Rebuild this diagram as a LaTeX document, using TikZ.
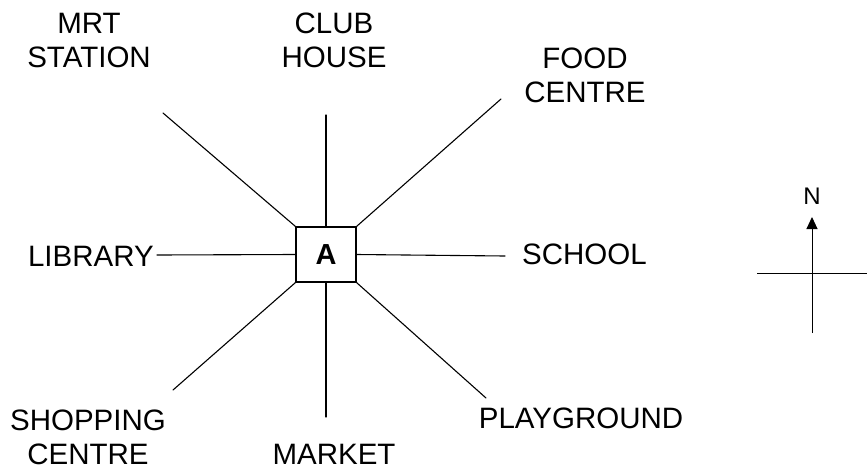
\documentclass[tikz,border=0pt]{standalone}
\usepackage{fontspec}
\setmainfont{Liberation Sans}
\usetikzlibrary{arrows.meta}

\begin{document}
\begin{tikzpicture}[x=1pt,y=-1pt]
\tikzset{
  placelabel/.style={inner sep=0pt,align=center,font=\fontsize{29.5}{34}\selectfont},
  centrebox/.style={draw=black,line width=1.2pt,minimum width=60pt,minimum height=55pt,inner sep=0pt,font=\fontsize{29}{34}\selectfont\bfseries},
  road/.style={draw=black,line width=1.1pt,line cap=round},
  compassline/.style={draw=black,line width=1pt}
}
\useasboundingbox (0,0) rectangle (867,471);
% centre
\node[centrebox] (n_A) at (326,254.5) {A};
% places
\node[placelabel] (n_mrt) at (89,40.5) {MRT\\STATION};
\node[placelabel] (n_club) at (334,40.5) {CLUB\\HOUSE};
\node[placelabel] (n_food) at (585,75) {FOOD\\CENTRE};
\node[placelabel,anchor=east] (n_library) at (154,256) {LIBRARY};
\node[placelabel,anchor=west] (n_school) at (522,254) {SCHOOL};
\node[placelabel] (n_shopping) at (88,437.5) {SHOPPING\\CENTRE};
\node[placelabel] (n_market) at (334,454) {MARKET};
\node[placelabel] (n_play) at (581,418.5) {PLAYGROUND};
% free ends of the roads
\coordinate (e_nw) at (163,113);
\coordinate (e_n) at (326,115);
\coordinate (e_ne) at (501,99);
\coordinate (e_w) at (157,255);
\coordinate (e_e) at (505,256);
\coordinate (e_sw) at (173,390);
\coordinate (e_s) at (326,417);
\coordinate (e_se) at (486,398);
\draw[road] (n_A.north west) -- (e_nw);
\draw[road] (n_A.north) -- (e_n);
\draw[road] (n_A.north east) -- (e_ne);
\draw[road] (n_A.west) -- (e_w);
\draw[road] (n_A.east) -- (e_e);
\draw[road] (n_A.south west) -- (e_sw);
\draw[road] (n_A.south) -- (e_s);
\draw[road] (n_A.south east) -- (e_se);
% compass
\node[placelabel,font=\fontsize{24}{28}\selectfont] (n_north) at (812,196) {N};
\coordinate (c_tip) at (812,217);
\coordinate (c_foot) at (812,333);
\coordinate (c_west) at (757,273);
\coordinate (c_east) at (867,273);
\draw[compassline,-{Triangle[length=12pt,width=11pt]}] (c_foot) -- (c_tip);
\draw[compassline] (c_west) -- (c_east);
\end{tikzpicture}
\end{document}
